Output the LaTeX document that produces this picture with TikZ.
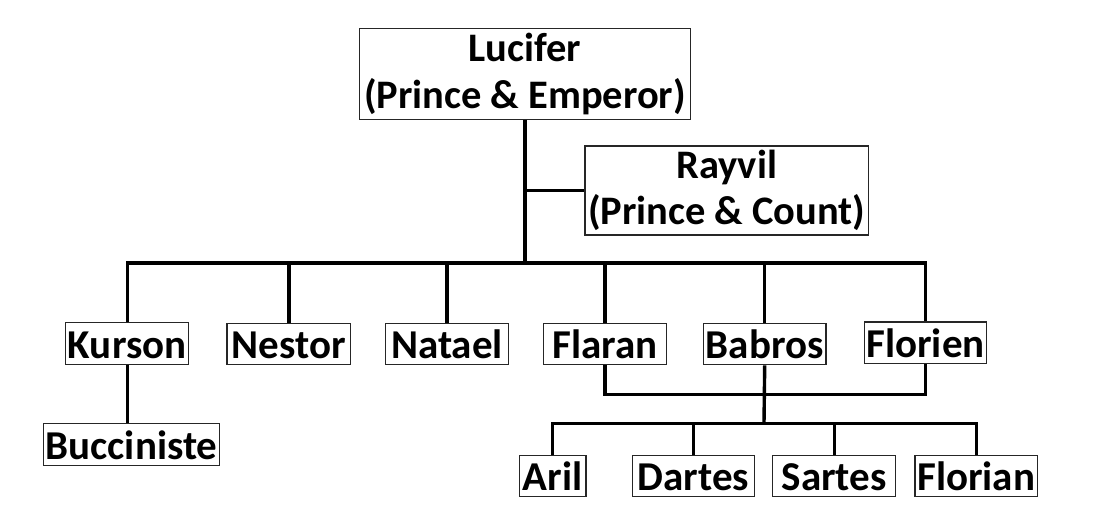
\documentclass[tikz,border=0pt]{standalone}
\usepackage{fontspec}
\setmainfont{Carlito}
\begin{document}
\begin{tikzpicture}
        [x=1pt, y=-1pt,
         member/.style={draw=black!85, line width=1.3pt, inner sep=0pt, align=center,
                        font=\fontsize{40.5}{46.5}\selectfont\bfseries},
         leaf/.style={member, minimum height=41.6pt, text height=35pt, text depth=6pt,
                      font=\fontsize{41}{47}\selectfont\bfseries},
         link/.style={line width=3.4pt}]
        \useasboundingbox (0,0) rectangle (1096,508);
        % top of the tree
        \node [member, minimum width=331.4pt, minimum height=91pt] (luc) at (525,73.8) {Lucifer\\(Prince \& Emperor)};
        \node [member, minimum width=283.3pt, minimum height=89pt] (ray) at (726.7,190.5) {Rayvil\\(Prince \& Count)};
        % second row
        \node [leaf, minimum width=123pt] (kur) at (127.2,343.5) {Kurson};
        \node [leaf, minimum width=123.7pt] (nes) at (288.9,344) {Nestor};
        \node [leaf, minimum width=122.6pt] (nat) at (447,344) {Natael};
        \node [leaf, minimum width=123.4pt] (fla) at (605,344) {Flaran};
        \node [leaf, minimum width=122.7pt] (bab) at (764.7,344) {Babros};
        \node [leaf, minimum width=122.4pt] (flo) at (925.5,342.9) {Florien};
        % third row
        \node [leaf, minimum width=175.6pt, minimum height=42.4pt] (buc) at (131.5,444.5) {Bucciniste};
        \node [leaf, minimum width=66.7pt] (ari) at (552.7,476) {Aril};
        \node [leaf, minimum width=121.6pt] (dar) at (693.5,476) {Dartes};
        \node [leaf, minimum width=123pt] (sar) at (834.2,476) {Sartes};
        \node [leaf, minimum width=122.3pt] (fln) at (976.2,476) {Florian};
        \coordinate (bar) at (525,263);
        \coordinate (join) at (764,394.3);
        \coordinate (kids) at (764,423.3);
        % connectors
        \draw [link] (luc.south) -- (bar);
        \draw [link] (ray.west) -- (ray.west -| luc.south);
        \draw [link] (kur.north) |- (bar) -| (flo.north);
        \draw [link] (nes.north) -- (nes.north |- bar);
        \draw [link] (nat.north) -- (nat.north |- bar);
        \draw [link] (fla.north) -- (fla.north |- bar);
        \draw [link] (bab.north) -- (bab.north |- bar);
        \draw [link] (kur.south) -- (kur.south |- buc.north);
        \draw [link] (fla.south) |- (join) -| (flo.south);
        \draw [link] (bab.south) -- (kids);
        \draw [link] (ari.north) |- (kids) -| (fln.north);
        \draw [link] (dar.north) -- (dar.north |- kids);
        \draw [link] (sar.north) -- (sar.north |- kids);
    \end{tikzpicture}
\end{document}
